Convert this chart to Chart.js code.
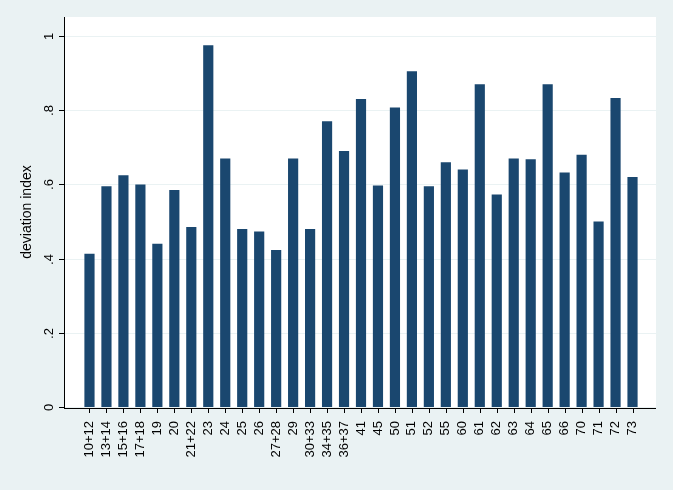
<!DOCTYPE html>
<html><head><meta charset="utf-8">
<script src="https://cdn.jsdelivr.net/npm/chart.js@4"></script>
<style>html,body{margin:0;padding:0;background:#eaf2f3}</style>
</head><body>
<div style="width:673px;height:490px"><canvas id="c"></canvas></div>
<script>
const categories=["10+12","13+14","15+16","17+18","19","20","21+22","23","24","25","26","27+28","29","30+33","34+35","36+37","41","45","50","51","52","55","60","61","62","63","64","65","66","70","71","72","73"];
const values=[0.413,0.595,0.625,0.6,0.44,0.585,0.485,0.975,0.67,0.48,0.473,0.423,0.67,0.48,0.77,0.69,0.83,0.597,0.807,0.905,0.595,0.66,0.64,0.87,0.573,0.67,0.668,0.87,0.632,0.68,0.5,0.833,0.62];
const yTicks=[0,0.2,0.4,0.6,0.8,1];
const yTickLabels=["0",".2",".4",".6",".8","1"];
const yTitle="deviation index";
const FONT="'Liberation Sans', Arial, sans-serif";
const bg={id:'bg',beforeDraw(ch){
  const c=ch.ctx,y=ch.scales.y,x=ch.scales.x;
  c.save();
  c.fillStyle='#eaf2f3';c.fillRect(0,0,ch.width,ch.height);
  c.fillStyle='#fff';c.fillRect(64,17,592,391);
  c.strokeStyle='#eaf2f3';c.lineWidth=1;
  yTicks.forEach(v=>{const p=Math.round(y.getPixelForValue(v))+0.5;c.beginPath();c.moveTo(64,p);c.lineTo(656,p);c.stroke();});
  c.strokeStyle='#000';
  c.beginPath();c.moveTo(64.5,17);c.lineTo(64.5,408);c.stroke();
  c.beginPath();c.moveTo(64,408.5);c.lineTo(656,408.5);c.stroke();
  c.fillStyle='#000';c.font='13px '+FONT;c.textAlign='center';c.textBaseline='bottom';
  yTicks.forEach((v,i)=>{const p=Math.round(y.getPixelForValue(v))+0.5;
    c.beginPath();c.moveTo(59,p);c.lineTo(64,p);c.stroke();
    c.save();c.translate(56,p);c.rotate(-Math.PI/2);c.fillText(yTickLabels[i],0,0);c.restore();});
  categories.forEach((_,i)=>{const p=Math.round(x.getPixelForValue(i))+0.5;c.beginPath();c.moveTo(p,408);c.lineTo(p,413);c.stroke();});
  c.save();c.translate(34,212);c.rotate(-Math.PI/2);c.font='14px '+FONT;c.fillText(yTitle,0,0);c.restore();
  c.restore();}};
new Chart(document.getElementById('c'),{type:'bar',
 data:{labels:categories,datasets:[{data:values,backgroundColor:'#1a476f',barPercentage:0.6,categoryPercentage:1}]},
 options:{responsive:true,maintainAspectRatio:false,animation:false,devicePixelRatio:1,
  layout:{padding:{left:81,right:32,top:36,bottom:0}},
  plugins:{legend:{display:false},tooltip:{enabled:false}},
  scales:{
   y:{min:0,max:1,ticks:{display:false},grid:{display:false},border:{display:false},afterFit(s){s.width=0;}},
   x:{grid:{display:false},border:{display:false},ticks:{minRotation:90,maxRotation:90,autoSkip:false,color:'#000',padding:6,font:{family:FONT,size:13}},afterFit(s){s.height=83;}}
  }}, plugins:[bg]});
</script></body></html>
